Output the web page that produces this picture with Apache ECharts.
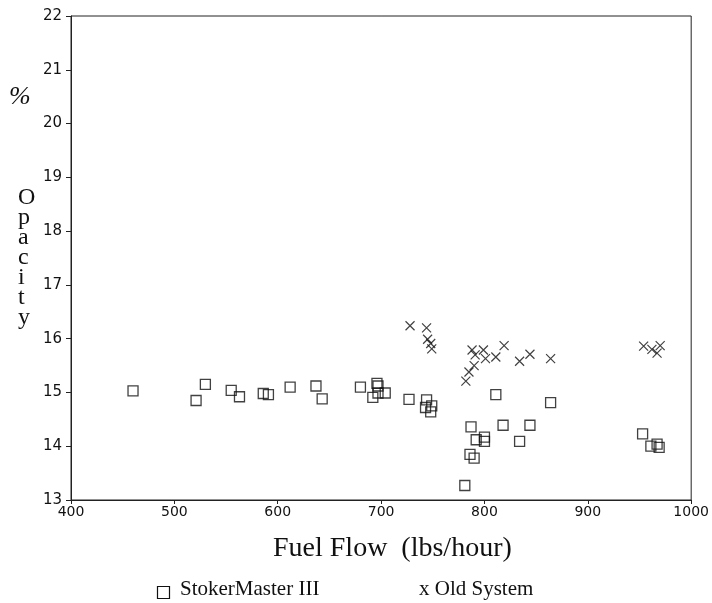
<!DOCTYPE html>
<html>
<head>
    <meta charset="utf-8" />
    <title>Opacity vs Fuel Flow</title>
    <script src="https://cdn.jsdelivr.net/npm/echarts@6/dist/echarts.min.js"></script>
    <style>
        html, body { margin: 0; padding: 0; background: #fff; }
        #chart { width: 712px; height: 603px; }
    </style>
</head>
<body>
    <div id="chart"></div>
    <script>
        // StokerMaster III: [fuel flow, opacity]
        var stokerData = [
            [460, 15.03], [521, 14.85], [530, 15.15], [555, 15.04], [563, 14.92],
            [586, 14.98], [591, 14.96], [612, 15.10], [637, 15.12], [643, 14.88],
            [680, 15.10], [692, 14.91], [696, 15.17], [697, 15.12], [697, 14.99],
            [704, 14.99], [727, 14.87], [744, 14.86], [743, 14.72], [749, 14.75],
            [748, 14.64], [781, 13.27], [786, 13.85], [790, 13.78], [787, 14.36],
            [792, 14.12], [800, 14.17], [800, 14.09], [811, 14.96], [818, 14.39],
            [834, 14.09], [844, 14.39], [864, 14.81], [953, 14.23], [961, 14.00],
            [967, 14.04], [969, 13.98]
        ];
        // Old System
        var oldData = [
            [728, 16.24], [744, 16.20], [745, 15.99], [748, 15.91], [749, 15.81],
            [782, 15.21], [785, 15.38], [790, 15.50], [788, 15.79], [791, 15.70],
            [799, 15.79], [801, 15.63], [811, 15.66], [819, 15.87], [834, 15.58],
            [844, 15.71], [864, 15.63], [954, 15.86], [962, 15.80], [967, 15.73],
            [970, 15.87]
        ];
        var xTicks = [400, 500, 600, 700, 800, 900, 1000];
        var yTicks = [13, 14, 15, 16, 17, 18, 19, 20, 21, 22];

        var numFont = '"DejaVu Sans", Arial, sans-serif';
        var serifFont = '"Liberation Serif", "Times New Roman", serif';

        var myChart = echarts.init(document.getElementById('chart'));
        var option = {
            backgroundColor: '#fff',
            animation: false,
            grid: {
                left: 71, right: 19, top: 16, bottom: 103,
                show: true, borderColor: '#222', borderWidth: 1
            },
            xAxis: {
                type: 'value',
                min: xTicks[0], max: xTicks[xTicks.length - 1], interval: 100,
                axisLine: { lineStyle: { color: '#222', width: 1 } },
                axisTick: { show: true, length: 4, lineStyle: { color: '#222' } },
                axisLabel: {
                    color: '#111', fontFamily: numFont, fontSize: 14, margin: 5,
                    formatter: function (v) { return String(v); }
                },
                splitLine: { show: false }
            },
            yAxis: {
                type: 'value',
                min: yTicks[0], max: yTicks[yTicks.length - 1], interval: 1,
                axisLine: { show: true, lineStyle: { color: '#222', width: 1 } },
                axisTick: { show: true, length: 5, lineStyle: { color: '#222' } },
                axisLabel: { color: '#111', fontFamily: numFont, fontSize: 15, margin: 9 },
                splitLine: { show: false }
            },
            series: [
                {
                    name: 'StokerMaster III',
                    type: 'scatter',
                    symbol: 'rect',
                    symbolSize: 10,
                    itemStyle: { color: 'rgba(255,255,255,0)', borderColor: '#111', borderWidth: 1.3 },
                    data: stokerData
                },
                {
                    name: 'Old System',
                    type: 'scatter',
                    symbol: 'path://M0,0L10,10M10,0L0,10',
                    symbolSize: 9,
                    itemStyle: { color: 'rgba(0,0,0,0)', borderColor: '#111', borderWidth: 1.2 },
                    data: oldData
                }
            ],
            graphic: [
                // y axis title
                {
                    type: 'text', left: 9, top: 84,
                    style: { text: '%', font: 'italic 26px ' + serifFont, fill: '#111' }
                },
                {
                    type: 'text', left: 18, top: 186,
                    style: {
                        text: 'O\np\na\nc\ni\nt\ny', font: '24px ' + serifFont,
                        fill: '#111', align: 'center', lineHeight: 20
                    }
                },
                // x axis title
                {
                    type: 'text', left: 273, top: 535,
                    style: { text: 'Fuel Flow  (lbs/hour)', font: '28px ' + serifFont, fill: '#111' }
                },
                // legend
                {
                    type: 'rect', left: 155, top: 584,
                    shape: { width: 12, height: 12 },
                    style: { fill: 'none', stroke: '#111', lineWidth: 1.2 }
                },
                {
                    type: 'text', left: 180, top: 579,
                    style: { text: 'StokerMaster III', font: '21px ' + serifFont, fill: '#111' }
                },
                {
                    type: 'text', left: 419, top: 579,
                    style: { text: 'x Old System', font: '21px ' + serifFont, fill: '#111' }
                }
            ]
        };
        myChart.setOption(option);
    </script>
</body>
</html>
